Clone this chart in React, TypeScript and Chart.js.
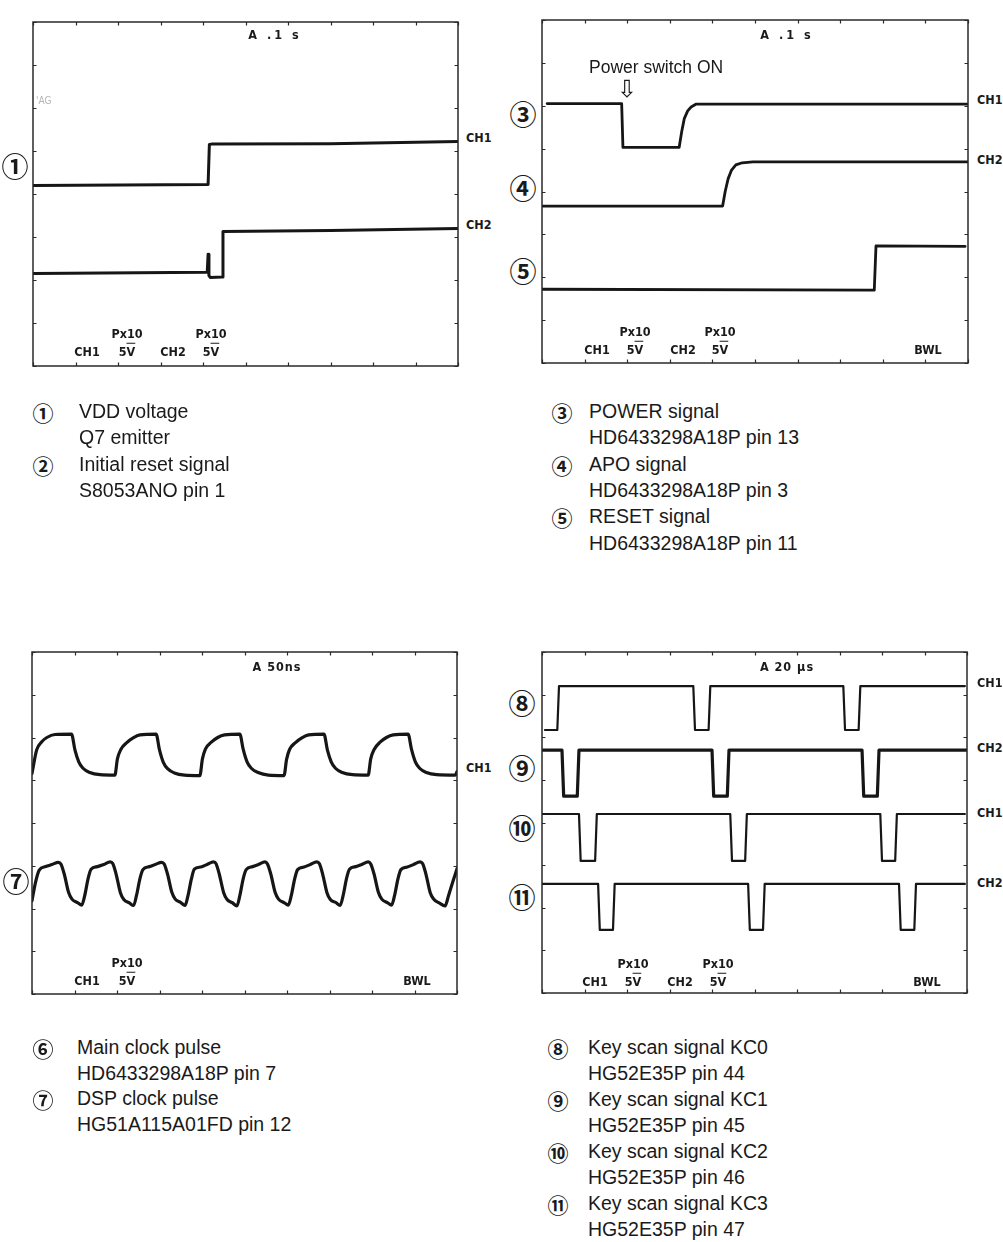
import React, { useEffect, useRef } from "react";
import { Chart, registerables } from "chart.js";
Chart.register(...registerables);

// ---------- grid divisions (oscilloscope graticule) ----------
const X_DIVS = [0, 1, 2, 3, 4, 5, 6, 7, 8, 9, 10];
const Y_DIVS = [0, 1, 2, 3, 4, 5, 6, 7, 8];

// ---------- Panel 1: VDD voltage (CH1) / Initial reset (CH2), A .1 s ----------
const vddX = [0, 4.12, 4.15, 4.2, 7, 10];
const vddY = [4.2, 4.22, 5.15, 5.16, 5.17, 5.22];
const initResetX = [0, 4.1, 4.12, 4.14, 4.17, 4.45, 4.47, 7, 10];
const initResetY = [2.15, 2.18, 2.6, 2.1, 2.06, 2.07, 3.13, 3.15, 3.2];

// ---------- Panel 2: POWER / APO / RESET, A .1 s ----------
const powerX = [0.12, 1.87, 1.9, 3.22, 3.28, 3.34, 3.42, 3.5, 3.62, 10];
const powerY = [6.05, 6.05, 5.03, 5.03, 5.4, 5.7, 5.88, 5.97, 6.04, 6.04];
const apoX = [0.02, 4.24, 4.3, 4.37, 4.45, 4.55, 4.7, 4.95, 10];
const apoY = [3.66, 3.66, 4.0, 4.3, 4.5, 4.62, 4.67, 4.69, 4.69];
const resetX = [0.02, 7.8, 7.84, 9.93];
const resetY = [1.72, 1.7, 2.73, 2.72];

// ---------- Panel 3: Main clock (CH1) / DSP clock, A 50ns ----------
const mainClkX = [0, 0.11, 0.23, 0.35, 0.54, 0.93, 1.01, 1.1, 1.2, 1.36, 1.6, 1.95, 2.01, 2.09, 2.23, 2.38, 2.54, 2.92, 3.0, 3.09, 3.19, 3.35, 3.59, 3.95, 4.01, 4.08, 4.22, 4.37, 4.53, 4.89, 4.97, 5.06, 5.16, 5.32, 5.56, 5.93, 5.99, 6.06, 6.2, 6.35, 6.51, 6.87, 6.95, 7.04, 7.14, 7.3, 7.54, 7.91, 7.97, 8.05, 8.19, 8.34, 8.5, 8.85, 8.93, 9.02, 9.12, 9.28, 9.52, 9.96, 10];
const mainClkY = [5.16, 5.71, 5.9, 6.0, 6.07, 6.08, 5.71, 5.43, 5.28, 5.18, 5.13, 5.12, 5.5, 5.72, 5.88, 5.99, 6.06, 6.08, 5.71, 5.42, 5.27, 5.17, 5.12, 5.11, 5.5, 5.73, 5.89, 6.0, 6.06, 6.08, 5.72, 5.43, 5.28, 5.18, 5.12, 5.11, 5.49, 5.72, 5.88, 5.99, 6.06, 6.08, 5.71, 5.43, 5.28, 5.18, 5.13, 5.12, 5.5, 5.72, 5.89, 6.0, 6.06, 6.08, 5.72, 5.43, 5.28, 5.18, 5.13, 5.12, 5.2];
const dspClkX = [0, 0.08, 0.17, 0.32, 0.47, 0.62, 0.68, 0.76, 0.86, 0.94, 1.07, 1.17, 1.24, 1.32, 1.39, 1.54, 1.69, 1.84, 1.9, 1.98, 2.08, 2.16, 2.29, 2.39, 2.46, 2.54, 2.61, 2.76, 2.9, 3.05, 3.11, 3.19, 3.29, 3.37, 3.5, 3.6, 3.67, 3.75, 3.82, 3.97, 4.12, 4.27, 4.33, 4.41, 4.51, 4.59, 4.72, 4.82, 4.89, 4.97, 5.04, 5.19, 5.33, 5.48, 5.54, 5.62, 5.72, 5.8, 5.93, 6.03, 6.1, 6.18, 6.25, 6.4, 6.55, 6.7, 6.76, 6.84, 6.94, 7.02, 7.15, 7.25, 7.32, 7.4, 7.47, 7.62, 7.76, 7.91, 7.97, 8.05, 8.15, 8.23, 8.36, 8.46, 8.53, 8.61, 8.68, 8.83, 8.98, 9.13, 9.19, 9.27, 9.37, 9.45, 9.58, 9.72, 9.8, 9.9, 10];
const dspClkY = [2.18, 2.6, 2.9, 2.98, 3.03, 3.08, 3.04, 2.8, 2.38, 2.22, 2.14, 2.08, 2.3, 2.7, 2.92, 2.98, 3.03, 3.09, 3.05, 2.8, 2.37, 2.21, 2.13, 2.07, 2.31, 2.7, 2.91, 2.98, 3.03, 3.08, 3.04, 2.8, 2.38, 2.22, 2.14, 2.07, 2.3, 2.69, 2.92, 2.97, 3.03, 3.09, 3.05, 2.79, 2.37, 2.21, 2.13, 2.06, 2.3, 2.7, 2.91, 2.98, 3.03, 3.09, 3.04, 2.8, 2.38, 2.22, 2.14, 2.08, 2.3, 2.69, 2.91, 2.97, 3.03, 3.09, 3.05, 2.8, 2.37, 2.21, 2.14, 2.07, 2.3, 2.7, 2.92, 2.98, 3.03, 3.09, 3.04, 2.8, 2.38, 2.22, 2.14, 2.08, 2.3, 2.69, 2.91, 2.97, 3.03, 3.09, 3.05, 2.8, 2.37, 2.22, 2.13, 2.06, 2.3, 2.62, 2.93];

// ---------- Panel 4: Key scan KC0..KC3, A 20 µs ----------
const kc0X = [0.07, 0.36, 0.4, 3.56, 3.6, 3.92, 3.96, 7.09, 7.13, 7.45, 7.49, 9.95];
const kc0Y = [6.17, 6.17, 7.2, 7.2, 6.17, 6.17, 7.2, 7.2, 6.17, 6.17, 7.2, 7.2];
const kc1X = [0, 0.47, 0.51, 0.83, 0.87, 4.0, 4.04, 4.36, 4.4, 7.53, 7.57, 7.89, 7.93, 10];
const kc1Y = [5.7, 5.7, 4.62, 4.62, 5.7, 5.7, 4.62, 4.62, 5.7, 5.7, 4.62, 4.62, 5.7, 5.7];
const kc2X = [0, 0.87, 0.91, 1.25, 1.29, 4.43, 4.47, 4.78, 4.82, 7.96, 8.0, 8.31, 8.35, 9.95];
const kc2Y = [4.2, 4.2, 3.1, 3.1, 4.2, 4.2, 3.1, 3.1, 4.2, 4.2, 3.1, 3.1, 4.2, 4.2];
const kc3X = [0, 1.32, 1.36, 1.67, 1.71, 4.85, 4.89, 5.2, 5.24, 8.4, 8.44, 8.76, 8.8, 9.95];
const kc3Y = [2.56, 2.56, 1.48, 1.48, 2.56, 2.56, 1.48, 1.48, 2.56, 2.56, 1.48, 1.48, 2.56, 2.56];

// ---------- captions ----------
const capTopLeft = [["①", "VDD voltage"], ["", "Q7 emitter"], ["②", "Initial reset signal"], ["", "S8053ANO pin 1"]];
const capTopRight = [["③", "POWER signal"], ["", "HD6433298A18P pin 13"], ["④", "APO signal"], ["", "HD6433298A18P pin 3"], ["⑤", "RESET signal"], ["", "HD6433298A18P pin 11"]];
const capBotLeft = [["⑥", "Main clock pulse"], ["", "HD6433298A18P pin 7"], ["⑦", "DSP clock pulse"], ["", "HG51A115A01FD pin 12"]];
const capBotRight = [["⑧", "Key scan signal KC0"], ["", "HG52E35P pin 44"], ["⑨", "Key scan signal KC1"], ["", "HG52E35P pin 45"], ["⑩", "Key scan signal KC2"], ["", "HG52E35P pin 46"], ["⑪", "Key scan signal KC3"], ["", "HG52E35P pin 47"]];

type Trace = { xs: number[]; ys: number[]; width: number; smooth?: boolean };
type Box = { x: number; y: number; w: number; h: number };

const framePlugin = {
  id: "scopeFrame",
  afterDatasetsDraw(chart: any) {
    const { ctx, chartArea: a, scales } = chart;
    const sx = scales.x;
    const sy = scales.y;
    ctx.save();
    ctx.strokeStyle = "#2a2a2a";
    ctx.lineWidth = 1.5;
    ctx.strokeRect(a.left, a.top, a.right - a.left, a.bottom - a.top);
    ctx.lineWidth = 1.2;
    ctx.beginPath();
    for (const v of X_DIVS) {
      const px = Math.round(sx.getPixelForValue(v)) + 0.5;
      ctx.moveTo(px, a.top);
      ctx.lineTo(px, a.top + 3.5);
      ctx.moveTo(px, a.bottom);
      ctx.lineTo(px, a.bottom - 3.5);
    }
    for (const v of Y_DIVS) {
      const py = Math.round(sy.getPixelForValue(v)) + 0.5;
      ctx.moveTo(a.left, py);
      ctx.lineTo(a.left + 3.5, py);
      ctx.moveTo(a.right, py);
      ctx.lineTo(a.right - 3.5, py);
    }
    ctx.stroke();
    ctx.restore();
  },
};

const PAD = 4;

function Scope({ box, traces }: { box: Box; traces: Trace[] }) {
  const ref = useRef<HTMLCanvasElement | null>(null);
  useEffect(() => {
    if (!ref.current) return;
    const chart = new Chart(ref.current, {
      type: "line",
      data: {
        datasets: traces.map((t) => ({
          data: t.xs.map((x, i) => ({ x, y: t.ys[i] })),
          borderColor: "#161616",
          borderWidth: t.width,
          pointRadius: 0,
          fill: false,
          borderJoinStyle: "round",
          borderCapStyle: "round",
          cubicInterpolationMode: t.smooth ? "monotone" : "default",
          tension: 0,
        })),
      },
      options: {
        responsive: false,
        animation: false,
        events: [],
        layout: { padding: PAD },
        scales: {
          x: { type: "linear", min: 0, max: 10, display: false },
          y: { type: "linear", min: 0, max: 8, display: false },
        },
        plugins: { legend: { display: false }, tooltip: { enabled: false } },
      },
      plugins: [framePlugin],
    } as any);
    return () => chart.destroy();
  }, []);
  return (
    <canvas
      ref={ref}
      width={box.w + PAD * 2}
      height={box.h + PAD * 2}
      style={{ position: "absolute", left: box.x - PAD, top: box.y - PAD, width: box.w + PAD * 2, height: box.h + PAD * 2 }}
    />
  );
}

const scopeFont: React.CSSProperties = {
  fontFamily: '"Liberation Sans Narrow","DejaVu Sans Condensed","Liberation Sans",sans-serif',
  fontWeight: 700,
  fontSize: 12.5,
  color: "#1a1a1a",
  whiteSpace: "pre",
  lineHeight: 1,
};

function T({ x, y, c, children, style }: { x: number; y: number; c?: boolean; children: React.ReactNode; style?: React.CSSProperties }) {
  return (
    <div
      style={{
        position: "absolute",
        left: x,
        top: y,
        transform: c ? "translate(-50%,-50%)" : "translate(0,-50%)",
        ...scopeFont,
        ...style,
      }}
    >
      {children}
    </div>
  );
}

const circleFont: React.CSSProperties = {
  fontFamily: '"Noto Sans CJK JP","DejaVu Sans",sans-serif',
  fontWeight: 700,
  color: "#1a1a1a",
};

function Circ({ x, y, ch, size }: { x: number; y: number; ch: string; size: number }) {
  return (
    <T x={x} y={y} c style={{ ...circleFont, fontSize: size }}>
      {ch}
    </T>
  );
}

function V5({ x, y }: { x: number; y: number }) {
  return (
    <T x={x} y={y} c>
      5<span style={{ textDecoration: "overline" }}>V</span>
    </T>
  );
}

function Caption({ x0, xt, y0, lh, rows }: { x0: number; xt: number; y0: number; lh: number; rows: string[][] }) {
  return (
    <>
      {rows.map((r, i) => (
        <React.Fragment key={i}>
          {r[0] ? (
            <T x={x0} y={y0 + i * lh} c style={{ ...circleFont, fontSize: 21 }}>
              {r[0]}
            </T>
          ) : null}
          <T x={xt} y={y0 + i * lh} style={{ fontFamily: '"Liberation Sans",Arial,sans-serif', fontWeight: 400, fontSize: 19.5, color: "#1a1a1a" }}>
            {r[1]}
          </T>
        </React.Fragment>
      ))}
    </>
  );
}

const box1: Box = { x: 33, y: 22, w: 425, h: 344 };
const box2: Box = { x: 542, y: 20, w: 426, h: 343 };
const box3: Box = { x: 32, y: 652, w: 425, h: 342 };
const box4: Box = { x: 542, y: 652, w: 425, h: 341 };

export default function App() {
  return (
    <div style={{ position: "absolute", left: 0, top: 0, width: 1003, height: 1242, background: "#fff", overflow: "hidden" }}>
      {/* Panel 1 */}
      <Scope box={box1} traces={[{ xs: vddX, ys: vddY, width: 3 }, { xs: initResetX, ys: initResetY, width: 3 }]} />
      <T x={275} y={35} c style={{ letterSpacing: 3 }}>A .1 s</T>
      <T x={36} y={101} style={{ color: "#b5b5b5", fontSize: 10, fontWeight: 400 }}>'AG</T>
      <Circ x={15} y={165} ch="①" size={27} />
      <T x={466} y={138}>CH1</T>
      <T x={466} y={225}>CH2</T>
      <T x={87} y={352} c>CH1</T>
      <T x={127} y={334} c>Px10</T>
      <V5 x={127} y={352} />
      <T x={173} y={352} c>CH2</T>
      <T x={211} y={334} c>Px10</T>
      <V5 x={211} y={352} />

      {/* Panel 2 */}
      <Scope box={box2} traces={[{ xs: powerX, ys: powerY, width: 2.8 }, { xs: apoX, ys: apoY, width: 2.8 }, { xs: resetX, ys: resetY, width: 2.8 }]} />
      <T x={787} y={35} c style={{ letterSpacing: 3 }}>A .1 s</T>
      <T x={589} y={68} style={{ fontFamily: '"Liberation Sans",Arial,sans-serif', fontWeight: 400, fontSize: 17.5 }}>Power switch ON</T>
      <T x={627} y={89} c style={{ fontFamily: '"DejaVu Sans",sans-serif', fontWeight: 400, fontSize: 24 }}>⇩</T>
      <Circ x={523} y={113} ch="③" size={27} />
      <Circ x={523} y={187} ch="④" size={27} />
      <Circ x={523} y={270} ch="⑤" size={27} />
      <T x={977} y={100}>CH1</T>
      <T x={977} y={160}>CH2</T>
      <T x={597} y={350} c>CH1</T>
      <T x={635} y={332} c>Px10</T>
      <V5 x={635} y={350} />
      <T x={683} y={350} c>CH2</T>
      <T x={720} y={332} c>Px10</T>
      <V5 x={720} y={350} />
      <T x={928} y={350} c>BWL</T>

      {/* Panel 3 */}
      <Scope box={box3} traces={[{ xs: mainClkX, ys: mainClkY, width: 3.2, smooth: true }, { xs: dspClkX, ys: dspClkY, width: 3.2, smooth: true }]} />
      <T x={277} y={667} c style={{ letterSpacing: 1 }}>A 50ns</T>
      <Circ x={16} y={880} ch="⑦" size={27} />
      <T x={466} y={768}>CH1</T>
      <T x={87} y={981} c>CH1</T>
      <T x={127} y={963} c>Px10</T>
      <V5 x={127} y={981} />
      <T x={417} y={981} c>BWL</T>

      {/* Panel 4 */}
      <Scope
        box={box4}
        traces={[
          { xs: kc0X, ys: kc0Y, width: 2.2 },
          { xs: kc1X, ys: kc1Y, width: 3.2 },
          { xs: kc2X, ys: kc2Y, width: 2.2 },
          { xs: kc3X, ys: kc3Y, width: 2.2 },
        ]}
      />
      <T x={787} y={667} c style={{ letterSpacing: 1 }}>A 20 μs</T>
      <Circ x={522} y={702} ch="⑧" size={27} />
      <Circ x={522} y={767} ch="⑨" size={27} />
      <Circ x={522} y={827} ch="⑩" size={27} />
      <Circ x={522} y={896} ch="⑪" size={27} />
      <T x={977} y={683}>CH1</T>
      <T x={977} y={748}>CH2</T>
      <T x={977} y={813}>CH1</T>
      <T x={977} y={883}>CH2</T>
      <T x={595} y={982} c>CH1</T>
      <T x={633} y={964} c>Px10</T>
      <V5 x={633} y={982} />
      <T x={680} y={982} c>CH2</T>
      <T x={718} y={964} c>Px10</T>
      <V5 x={718} y={982} />
      <T x={927} y={982} c>BWL</T>

      {/* Captions */}
      <Caption x0={43} xt={79} y0={412} lh={26.3} rows={capTopLeft} />
      <Caption x0={562} xt={589} y0={412} lh={26.3} rows={capTopRight} />
      <Caption x0={43} xt={77} y0={1048} lh={25.7} rows={capBotLeft} />
      <Caption x0={558} xt={588} y0={1048} lh={26} rows={capBotRight} />
    </div>
  );
}
